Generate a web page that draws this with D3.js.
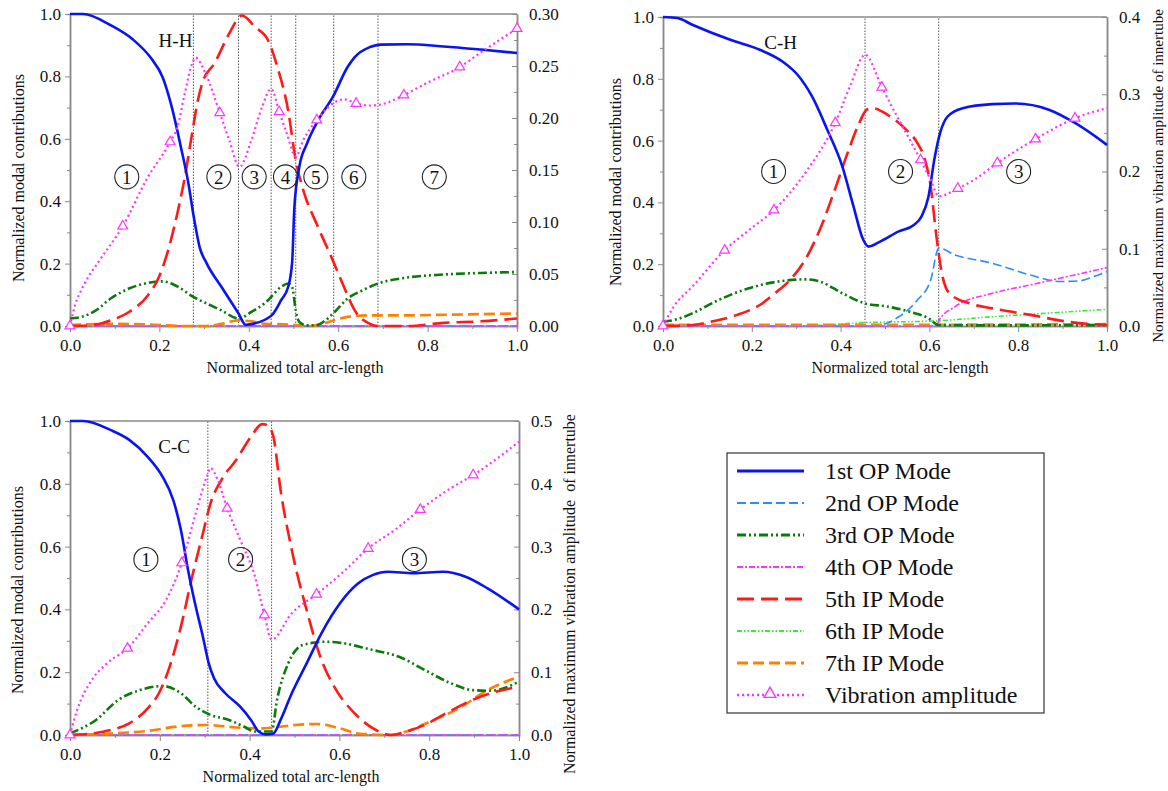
<!DOCTYPE html>
<html>
<head>
<meta charset="utf-8">
<script src="https://cdn.jsdelivr.net/npm/d3@7"></script>
<style>
  body { margin: 0; background: #fff; }
</style>
</head>
<body>
<svg id="chart" width="1168" height="791"></svg>
<script>
// ---- shared ticks / labels
var xTicks = [0, 0.2, 0.4, 0.6, 0.8, 1.0];
var xMinor = [0.1, 0.3, 0.5, 0.7, 0.9];
var leftTicks = [0, 0.2, 0.4, 0.6, 0.8, 1.0];
var leftMinor = [0.1, 0.3, 0.5, 0.7, 0.9];
var seriesKeys = ['op1', 'op2', 'op3', 'op4', 'ip5', 'ip6', 'ip7', 'vib'];
var seriesNames = ['1st OP Mode', '2nd OP Mode', '3rd OP Mode', '4th OP Mode',
                   '5th IP Mode', '6th IP Mode', '7th IP Mode', 'Vibration amplitude'];

// ---- H-H
var hhDividers = [0.276, 0.377, 0.450, 0.505, 0.590, 0.689];
var hhRegions = [0.127, 0.333, 0.412, 0.482, 0.550, 0.635, 0.815];
var hhOP1 = [[0,1],[0.029,1],[0.091,0.964],[0.141,0.918],[0.182,0.857],[0.207,0.798],[0.228,0.70],[0.248,0.574],
  [0.265,0.456],[0.277,0.349],[0.290,0.253],[0.306,0.20],[0.339,0.125],[0.377,0.04],[0.393,0.004],[0.406,0.006],
  [0.451,0.034],[0.472,0.082],[0.488,0.125],[0.497,0.205],[0.502,0.381],[0.513,0.51],[0.530,0.584],[0.555,0.659],
  [0.588,0.734],[0.621,0.83],[0.637,0.862],[0.671,0.894],[0.695,0.902],[0.753,0.903],[0.836,0.896],[0.919,0.886],[1,0.875]];
var hhOP2 = [[0,0],[1,0]];
var hhOP3 = [[0,0.024],[0.025,0.029],[0.058,0.05],[0.091,0.088],[0.132,0.12],[0.174,0.138],[0.207,0.143],[0.240,0.127],
  [0.276,0.093],[0.306,0.072],[0.339,0.05],[0.377,0.024],[0.406,0.045],[0.439,0.077],[0.472,0.125],[0.488,0.136],
  [0.497,0.125],[0.505,0.05],[0.513,0.013],[0.530,0.002],[0.550,0.002],[0.571,0.018],[0.592,0.045],[0.621,0.088],
  [0.654,0.114],[0.689,0.136],[0.753,0.155],[0.836,0.165],[0.919,0.17],[1,0.173]];
var hhOP4 = [[0,0],[1,0]];
var hhIP5 = [[0,0],[0.05,0.003],[0.091,0.018],[0.132,0.045],[0.174,0.098],[0.199,0.157],[0.215,0.221],[0.240,0.36],
  [0.257,0.478],[0.273,0.616],[0.286,0.723],[0.298,0.787],[0.323,0.841],[0.356,0.937],[0.385,0.995],[0.414,0.958],
  [0.443,0.916],[0.464,0.83],[0.488,0.691],[0.505,0.531],[0.522,0.435],[0.555,0.317],[0.588,0.21],[0.613,0.125],
  [0.637,0.05],[0.671,0.007],[0.689,0],[0.753,0],[0.836,0.01],[0.919,0.015],[1,0.024]];
var hhIP6 = [[0,0],[1,0]];
var hhIP7 = [[0,0.003],[0.091,0.007],[0.174,0.005],[0.257,0],[0.306,0],[0.339,0.007],[0.377,0.018],[0.406,0.015],
  [0.439,0.007],[0.488,0.005],[0.538,0],[0.563,0.007],[0.590,0.018],[0.629,0.031],[0.671,0.034],[0.753,0.034],
  [0.836,0.036],[1,0.04]];
// [x, amplitude, has marker]
var hhVib = [[0,0,1],[0.008,0.015,0],[0.033,0.041,0],[0.066,0.063,0],[0.118,0.096,1],[0.174,0.143,0],[0.224,0.177,1],
  [0.240,0.191,0],[0.257,0.224,0],[0.273,0.252,0],[0.281,0.258,0],[0.302,0.244,0],[0.335,0.205,1],[0.356,0.179,0],
  [0.379,0.153,0],[0.406,0.179,0],[0.430,0.211,0],[0.450,0.228,0],[0.468,0.206,1],[0.485,0.185,0],[0.505,0.163,0],
  [0.522,0.179,0],[0.552,0.198,1],[0.588,0.214,0],[0.613,0.218,0],[0.640,0.214,1],[0.671,0.212,0],[0.695,0.213,0],
  [0.747,0.222,1],[0.795,0.233,0],[0.872,0.249,1],[0.919,0.263,0],[1,0.286,1]];
var hhRightTicks = [0, 0.05, 0.10, 0.15, 0.20, 0.25, 0.30];
var hhRightMinor = [0.025, 0.075, 0.125, 0.175, 0.225, 0.275];

// ---- C-H
var chDividers = [0.455, 0.621];
var chRegions = [0.249, 0.535, 0.801];
var chOP1 = [[0,1],[0.032,0.997],[0.066,0.975],[0.150,0.927],[0.218,0.894],[0.269,0.856],[0.303,0.813],[0.336,0.742],
  [0.370,0.635],[0.404,0.516],[0.429,0.387],[0.451,0.279],[0.463,0.257],[0.489,0.273],[0.531,0.306],[0.565,0.327],
  [0.582,0.354],[0.598,0.419],[0.611,0.538],[0.624,0.624],[0.641,0.678],[0.675,0.705],[0.742,0.718],[0.793,0.72],
  [0.869,0.70],[0.928,0.657],[1,0.586]];
var chOP2 = [[0,0],[0.455,0],[0.489,0.003],[0.531,0.03],[0.573,0.084],[0.603,0.149],[0.621,0.252],[0.658,0.23],
  [0.742,0.203],[0.827,0.165],[0.894,0.144],[0.937,0.146],[0.970,0.16],[1,0.176]];
var chOP3 = [[0,0.014],[0.032,0.022],[0.066,0.041],[0.125,0.084],[0.193,0.122],[0.260,0.144],[0.320,0.151],[0.353,0.144],
  [0.404,0.106],[0.455,0.073],[0.505,0.063],[0.556,0.046],[0.598,0.025],[0.621,0.003],[0.75,0.002],[1,0.003]];
var chOP4 = [[0,0],[0.615,0],[0.622,0.019],[0.658,0.063],[0.742,0.106],[0.827,0.133],[0.911,0.16],[1,0.189]];
var chIP5 = [[0,0],[0.066,0.003],[0.108,0.014],[0.167,0.036],[0.218,0.068],[0.252,0.106],[0.286,0.149],[0.320,0.214],
  [0.353,0.311],[0.387,0.441],[0.421,0.581],[0.442,0.657],[0.459,0.70],[0.472,0.705],[0.505,0.684],[0.548,0.635],
  [0.573,0.592],[0.590,0.538],[0.603,0.451],[0.615,0.30],[0.628,0.171],[0.645,0.106],[0.691,0.073],[0.742,0.057],
  [0.827,0.036],[0.911,0.014],[1,0.003]];
var chIP6 = [[0,0],[0.320,0.001],[0.455,0.011],[0.621,0.017],[0.742,0.03],[0.827,0.038],[1,0.054]];
var chIP7 = [[0,0.004],[0.5,0.004],[1,0.006]];
var chVib = [[0,0,1],[0.024,0.025,0],[0.066,0.051,0],[0.139,0.098,1],[0.193,0.124,0],[0.250,0.150,1],[0.320,0.198,0],
  [0.388,0.263,1],[0.421,0.310,0],[0.455,0.351,0],[0.493,0.309,1],[0.531,0.267,0],[0.556,0.241,0],[0.580,0.215,1],
  [0.603,0.189,0],[0.621,0.168,0],[0.664,0.178,1],[0.700,0.189,0],[0.753,0.211,1],[0.839,0.242,1],[0.928,0.269,1],[1,0.282,0]];
var chRightTicks = [0, 0.1, 0.2, 0.3, 0.4];
var chRightMinor = [0.05, 0.15, 0.25, 0.35];

// ---- C-C
var ccDividers = [0.307, 0.449];
var ccRegions = [0.169, 0.380, 0.767];
var ccOP1 = [[0,1],[0.029,1],[0.091,0.971],[0.132,0.94],[0.173,0.886],[0.206,0.823],[0.230,0.748],[0.247,0.653],
  [0.263,0.525],[0.280,0.409],[0.296,0.313],[0.309,0.228],[0.321,0.18],[0.346,0.133],[0.379,0.09],[0.403,0.048],
  [0.420,0.011],[0.436,0.002],[0.453,0.005],[0.469,0.048],[0.494,0.133],[0.527,0.228],[0.560,0.324],[0.601,0.419],
  [0.642,0.483],[0.675,0.51],[0.708,0.52],[0.765,0.515],[0.831,0.52],[0.881,0.504],[0.930,0.467],[1,0.40]];
var ccOP2 = [[0,0],[1,0]];
var ccOP3 = [[0,0.005],[0.058,0.048],[0.107,0.111],[0.156,0.143],[0.206,0.156],[0.247,0.133],[0.280,0.09],[0.313,0.064],
  [0.354,0.048],[0.387,0.027],[0.412,0.011],[0.449,0.011],[0.461,0.111],[0.486,0.228],[0.519,0.287],[0.568,0.297],
  [0.601,0.294],[0.667,0.273],[0.733,0.249],[0.790,0.207],[0.848,0.165],[0.897,0.143],[0.938,0.141],[1,0.17]];
var ccOP4 = [[0,0],[1,0]];
var ccIP5 = [[0,0],[0.049,0.005],[0.091,0.016],[0.132,0.037],[0.173,0.085],[0.198,0.133],[0.222,0.218],[0.247,0.345],
  [0.272,0.504],[0.296,0.642],[0.313,0.738],[0.337,0.812],[0.370,0.876],[0.403,0.95],[0.428,0.99],[0.440,0.987],
  [0.453,0.95],[0.469,0.78],[0.494,0.589],[0.527,0.398],[0.560,0.239],[0.593,0.143],[0.634,0.069],[0.675,0.021],
  [0.716,0],[0.749,0.011],[0.790,0.032],[0.831,0.064],[0.914,0.122],[1,0.154]];
var ccIP6 = [[0,0],[1,0]];
var ccIP7 = [[0,0],[0.091,0.005],[0.173,0.013],[0.239,0.027],[0.305,0.032],[0.370,0.024],[0.420,0.021],[0.453,0.024],
  [0.502,0.032],[0.551,0.035],[0.601,0.021],[0.642,0.005],[0.716,0],[0.749,0.011],[0.790,0.035],[0.872,0.09],
  [0.930,0.143],[1,0.186]];
var ccVib = [[0,0,1],[0.016,0.040,0],[0.049,0.088,0],[0.082,0.114,0],[0.128,0.138,1],[0.173,0.178,0],[0.214,0.215,0],
  [0.249,0.274,1],[0.280,0.353,0],[0.305,0.412,0],[0.313,0.425,0],[0.329,0.406,0],[0.350,0.361,1],[0.379,0.311,0],
  [0.412,0.252,0],[0.433,0.191,1],[0.449,0.152,0],[0.494,0.194,0],[0.549,0.224,1],[0.609,0.260,0],[0.664,0.297,1],
  [0.724,0.327,0],[0.780,0.359,1],[0.848,0.393,0],[0.898,0.414,1],[1,0.467,0]];
var ccRightTicks = [0, 0.1, 0.2, 0.3, 0.4, 0.5];
var ccRightMinor = [0.05, 0.15, 0.25, 0.35, 0.45];

// ---- line styles
var styles = {
  op1: { color: '#0a14f0', width: 2.6, dash: null },
  op2: { color: '#2b8cff', width: 1.6, dash: '9,4' },
  op3: { color: '#0a7a0a', width: 2.6, dash: '9,3,2,3,2,3' },
  op4: { color: '#ff33ff', width: 1.6, dash: '6,2,2,2' },
  ip5: { color: '#ff1a1a', width: 2.6, dash: '17,7' },
  ip6: { color: '#33ee33', width: 1.6, dash: '5,2,1.5,2,1.5,2' },
  ip7: { color: '#ff8000', width: 2.6, dash: '11,5' },
  vib: { color: '#ff33ff', width: 2.2, dash: '2,3' }
};
var drawOrder = ['ip6', 'op2', 'op4', 'ip7', 'op3', 'ip5', 'op1', 'vib'];

var svg = d3.select('#chart');
var frameColor = '#8a8a8a';
var serif = '"Liberation Serif", "DejaVu Serif", "Times New Roman", serif';

var panels = [
  { name: 'H-H', x0: 70, x1: 517, y0: 326, y1: 14, rMax: 0.30, rTicks: hhRightTicks, rMinor: hhRightMinor, rFmt: '.2f',
    label: [0.236, 0.915], dividers: hhDividers, regions: hhRegions, regionY: 0.478,
    data: { op1: hhOP1, op2: hhOP2, op3: hhOP3, op4: hhOP4, ip5: hhIP5, ip6: hhIP6, ip7: hhIP7, vib: hhVib },
    xTitle: [295, 373], lTitle: [24, 178], rTitle: null },
  { name: 'C-H', x0: 663, x1: 1107, y0: 326, y1: 17, rMax: 0.4, rTicks: chRightTicks, rMinor: chRightMinor, rFmt: '.1f',
    label: [0.265, 0.917], dividers: chDividers, regions: chRegions, regionY: 0.5,
    data: { op1: chOP1, op2: chOP2, op3: chOP3, op4: chOP4, ip5: chIP5, ip6: chIP6, ip7: chIP7, vib: chVib },
    xTitle: [900, 373], lTitle: [621, 182], rTitle: [1163, 176, 'Normalized maximum vibration amplitude of innertube', 15] },
  { name: 'C-C', x0: 70, x1: 519, y0: 735, y1: 421, rMax: 0.5, rTicks: ccRightTicks, rMinor: ccRightMinor, rFmt: '.1f',
    label: [0.232, 0.918], dividers: ccDividers, regions: ccRegions, regionY: 0.559,
    data: { op1: ccOP1, op2: ccOP2, op3: ccOP3, op4: ccOP4, ip5: ccIP5, ip6: ccIP6, ip7: ccIP7, vib: ccVib },
    xTitle: [291, 782], lTitle: [23, 590], rTitle: [575, 594, 'Normalized maximum vibration amplitude\u00a0 of innertube', 16] }
];

var styleAxis = function (g, size) {
  g.attr('font-size', size).attr('font-family', serif);
  g.select('.domain').attr('stroke', frameColor).attr('stroke-width', 1.5);
  g.selectAll('.tick line').attr('stroke', frameColor);
  g.selectAll('.tick text').attr('fill', '#111');
};

var drawPanel = function (p) {
  var x = d3.scaleLinear().domain([0, 1]).range([p.x0, p.x1]);
  var y = d3.scaleLinear().domain([0, 1]).range([p.y0, p.y1]);
  var yr = d3.scaleLinear().domain([0, p.rMax]).range([p.y0, p.y1]);
  var g = svg.append('g');

  // minor ticks
  g.append('g').attr('transform', 'translate(0,' + p.y0 + ')')
    .call(d3.axisBottom(x).tickValues(xMinor).tickSize(3).tickFormat(''))
    .call(styleAxis, 17);
  g.append('g').attr('transform', 'translate(' + p.x0 + ',0)')
    .call(d3.axisLeft(y).tickValues(leftMinor).tickSize(3).tickFormat(''))
    .call(styleAxis, 17);
  g.append('g').attr('transform', 'translate(' + p.x1 + ',0)')
    .call(d3.axisRight(yr).tickValues(p.rMinor).tickSizeInner(-3).tickSizeOuter(0).tickFormat(''))
    .call(styleAxis, 17);

  // major axes
  g.append('g').attr('transform', 'translate(0,' + p.y0 + ')')
    .call(d3.axisBottom(x).tickValues(xTicks).tickSizeInner(6).tickSizeOuter(0).tickPadding(7).tickFormat(d3.format('.1f')))
    .call(styleAxis, 17);
  g.append('g').attr('transform', 'translate(' + p.x0 + ',0)')
    .call(d3.axisLeft(y).tickValues(leftTicks).tickSizeInner(5).tickSizeOuter(0).tickPadding(4).tickFormat(d3.format('.1f')))
    .call(styleAxis, 17);
  g.append('g').attr('transform', 'translate(' + p.x1 + ',0)')
    .call(d3.axisRight(yr).tickValues(p.rTicks).tickSizeInner(-5).tickSizeOuter(0).tickPadding(12).tickFormat(d3.format(p.rFmt)))
    .call(styleAxis, 17);

  // top frame
  g.append('line').attr('x1', p.x0).attr('x2', p.x1).attr('y1', p.y1).attr('y2', p.y1)
    .attr('stroke', frameColor).attr('stroke-width', 1.5);

  // region dividers
  g.selectAll('.divider').data(p.dividers).enter().append('line')
    .attr('x1', function (d) { return x(d); }).attr('x2', function (d) { return x(d); })
    .attr('y1', p.y0).attr('y2', p.y1)
    .attr('stroke', '#555').attr('stroke-width', 1).attr('stroke-dasharray', '1.5,1.5');

  // curves
  var line = d3.line()
    .x(function (d) { return x(d[0]); })
    .y(function (d) { return y(d[1]); })
    .curve(d3.curveMonotoneX);
  var vibLine = d3.line()
    .x(function (d) { return x(d[0]); })
    .y(function (d) { return yr(d[1]); })
    .curve(d3.curveMonotoneX);

  drawOrder.forEach(function (key) {
    var s = styles[key];
    g.append('path')
      .datum(p.data[key])
      .attr('d', key === 'vib' ? vibLine : line)
      .attr('fill', 'none')
      .attr('stroke', s.color)
      .attr('stroke-width', s.width)
      .attr('stroke-dasharray', s.dash);
  });

  var tri = d3.symbol().type(d3.symbolTriangle).size(42);
  g.selectAll('.marker')
    .data(p.data.vib.filter(function (d) { return d[2]; }))
    .enter().append('path')
    .attr('d', tri)
    .attr('transform', function (d) { return 'translate(' + x(d[0]) + ',' + yr(d[1]) + ')'; })
    .attr('fill', '#fff').attr('stroke', styles.vib.color).attr('stroke-width', 1.2);

  // circled region numbers
  var reg = g.selectAll('.region').data(p.regions).enter().append('g')
    .attr('transform', function (d) { return 'translate(' + x(d) + ',' + y(p.regionY) + ')'; });
  reg.append('circle').attr('r', 12).attr('fill', 'none').attr('stroke', '#222').attr('stroke-width', 1.1);
  reg.append('text')
    .attr('text-anchor', 'middle').attr('dy', '0.35em').attr('font-size', 19)
    .text(function (d, i) { return i + 1; });

  // panel label
  g.append('text').attr('x', x(p.label[0])).attr('y', y(p.label[1])).attr('dy', '0.35em')
    .attr('text-anchor', 'middle').attr('font-size', 19).text(p.name);

  // axis titles
  g.append('text').attr('x', p.xTitle[0]).attr('y', p.xTitle[1])
    .attr('text-anchor', 'middle').attr('font-size', 16).text('Normalized total arc-length');
  g.append('text').attr('transform', 'translate(' + p.lTitle[0] + ',' + p.lTitle[1] + ') rotate(-90)')
    .attr('text-anchor', 'middle').attr('font-size', 16).text('Normalized modal contributions');
  if (p.rTitle) {
    g.append('text').attr('transform', 'translate(' + p.rTitle[0] + ',' + p.rTitle[1] + ') rotate(-90)')
      .attr('text-anchor', 'middle').attr('font-size', p.rTitle[3]).text(p.rTitle[2]);
  }
};

panels.forEach(drawPanel);

// ---- legend
var legend = svg.append('g');
legend.append('rect').attr('x', 727).attr('y', 453).attr('width', 317).attr('height', 260)
  .attr('fill', '#fff').attr('stroke', '#333').attr('stroke-width', 1.2);
var rows = legend.selectAll('.row').data(seriesKeys).enter().append('g')
  .attr('transform', function (d, i) { return 'translate(0,' + (471 + i * 32) + ')'; });
rows.append('line').attr('x1', 737).attr('x2', 804).attr('y1', 0).attr('y2', 0)
  .attr('stroke', function (d) { return styles[d].color; })
  .attr('stroke-width', function (d) { return styles[d].width + 0.4; })
  .attr('stroke-dasharray', function (d) { return styles[d].dash; });
rows.filter(function (d) { return d === 'vib'; }).append('path')
  .attr('d', d3.symbol().type(d3.symbolTriangle).size(60))
  .attr('transform', 'translate(770,-1)')
  .attr('fill', '#fff').attr('stroke', styles.vib.color).attr('stroke-width', 1.4);
rows.append('text').attr('x', 825).attr('dy', '0.35em').attr('font-size', 24)
  .text(function (d, i) { return seriesNames[i]; });

svg.selectAll('text').style('font-family', serif).attr('fill', '#111');
</script>
</body>
</html>
